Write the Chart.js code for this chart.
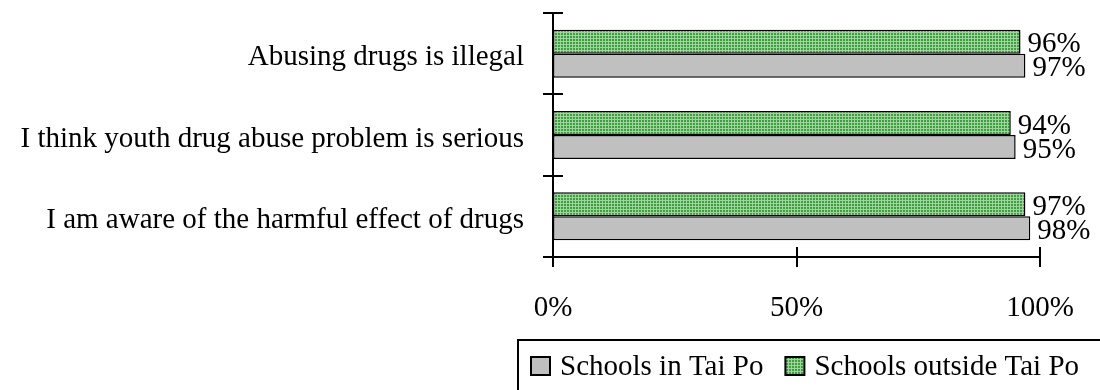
<!DOCTYPE html>
<html>
<head>
<meta charset="utf-8">
<script src="https://cdn.jsdelivr.net/npm/chart.js@4.4.1/dist/chart.umd.min.js"></script>
<style>
  html, body { margin: 0; padding: 0; background: #ffffff; }
  #wrap { width: 1100px; height: 390px; position: relative; }
</style>
</head>
<body>
<div id="wrap"><canvas id="chart" width="1100" height="390"></canvas></div>
<script>
// Survey statements (top to bottom)
const categories = [
  'Abusing drugs is illegal',
  'I think youth drug abuse problem is serious',
  'I am aware of the harmful effect of drugs'
];
// Percentage agreeing, by school location
const outsideTaiPo = [96, 94, 97];
const inTaiPo = [97, 95, 98];
const seriesNames = ['Schools outside Tai Po', 'Schools in Tai Po'];
const tickValues = [0, 50, 100];

const FONT = "'Liberation Serif', 'Times New Roman', serif";
const FONT_SIZE = 29;

// Small green grid fill for the "outside" series
function makeGridPattern() {
  const c = document.createElement('canvas');
  c.width = 3; c.height = 3;
  const g = c.getContext('2d');
  g.fillStyle = '#3d9f3d';
  g.fillRect(0, 0, 3, 3);
  g.fillStyle = '#9fd49f';
  g.fillRect(0, 2, 3, 1);
  g.fillRect(2, 0, 1, 3);
  return g.createPattern(c, 'repeat');
}
const greenGrid = makeGridPattern();

// Crossing tick marks on both axes
const crossTicks = {
  id: 'crossTicks',
  afterDraw(chart) {
    const ctx = chart.ctx;
    const x = chart.scales.x, y = chart.scales.y;
    const area = chart.chartArea;
    ctx.save();
    ctx.strokeStyle = '#000';
    ctx.lineWidth = 2;
    ctx.beginPath();
    for (let i = 0; i <= categories.length; i++) {
      const py = Math.round(y.getPixelForValue(i - 0.5));
      ctx.moveTo(area.left - 10, py);
      ctx.lineTo(area.left + 10, py);
    }
    x.ticks.forEach(t => {
      const px = Math.round(x.getPixelForValue(t.value));
      ctx.moveTo(px, area.bottom - 10);
      ctx.lineTo(px, area.bottom + 10);
    });
    ctx.stroke();
    ctx.restore();
  }
};

// Percentage text at the end of each bar
const valueLabels = {
  id: 'valueLabels',
  afterDatasetsDraw(chart) {
    const ctx = chart.ctx;
    ctx.save();
    ctx.font = FONT_SIZE + 'px ' + FONT;
    ctx.fillStyle = '#000';
    ctx.textAlign = 'left';
    ctx.textBaseline = 'middle';
    chart.data.datasets.forEach((ds, di) => {
      const meta = chart.getDatasetMeta(di);
      meta.data.forEach((bar, i) => {
        ctx.fillText(ds.data[i] + '%', bar.x + 7, bar.y + 3);
      });
    });
    ctx.restore();
  }
};

// Boxed legend along the bottom right
const boxedLegend = {
  id: 'boxedLegend',
  afterDraw(chart) {
    const ctx = chart.ctx;
    const boxLeft = 518, boxTop = 340;
    ctx.save();
    ctx.strokeStyle = '#000';
    ctx.lineWidth = 2;
    ctx.strokeRect(boxLeft, boxTop, chart.width - boxLeft + 10, chart.height - boxTop + 10);
    ctx.font = FONT_SIZE + 'px ' + FONT;
    ctx.textBaseline = 'middle';
    ctx.textAlign = 'left';
    let xPos = 531;
    const cy = 366;
    const items = chart.data.datasets.slice().reverse();
    items.forEach(ds => {
      ctx.fillStyle = ds.backgroundColor;
      ctx.fillRect(xPos, cy - 9, 19, 18);
      ctx.lineWidth = 2;
      ctx.strokeStyle = '#000';
      ctx.strokeRect(xPos, cy - 9, 19, 18);
      ctx.fillStyle = '#000';
      ctx.fillText(ds.label, xPos + 29, cy + 1);
      xPos += 29 + ctx.measureText(ds.label).width + 22;
    });
    ctx.restore();
  }
};

new Chart(document.getElementById('chart'), {
  type: 'bar',
  data: {
    labels: categories,
    datasets: [
      {
        label: seriesNames[0],
        data: outsideTaiPo,
        backgroundColor: greenGrid,
        borderColor: '#000',
        borderWidth: 1.5,
        borderSkipped: false
      },
      {
        label: seriesNames[1],
        data: inTaiPo,
        backgroundColor: '#c0c0c0',
        borderColor: '#000',
        borderWidth: 1.5,
        borderSkipped: false
      }
    ]
  },
  options: {
    indexAxis: 'y',
    responsive: false,
    animation: false,
    datasets: { bar: { categoryPercentage: 0.59, barPercentage: 1.0 } },
    layout: { padding: { top: 13, right: 60, bottom: 0, left: 0 } },
    plugins: {
      legend: { display: false },
      tooltip: { enabled: false }
    },
    scales: {
      x: {
        min: 0,
        max: 100,
        afterBuildTicks(scale) {
          scale.ticks = tickValues.map(v => ({ value: v }));
        },
        afterFit(scale) {
          scale.height = 133;
          scale.paddingLeft = 0;
          scale.paddingRight = 0;
        },
        grid: { display: false },
        border: { display: true, color: '#000', width: 2 },
        ticks: {
          padding: 26,
          color: '#000',
          maxRotation: 0,
          font: { family: FONT, size: FONT_SIZE },
          callback: v => v + '%'
        }
      },
      y: {
        afterFit(scale) {
          scale.width = 553;
          scale.paddingTop = 0;
          scale.paddingBottom = 0;
        },
        grid: { display: false },
        border: { display: true, color: '#000', width: 2 },
        ticks: {
          padding: 21,
          labelOffset: 4,
          color: '#000',
          font: { family: FONT, size: FONT_SIZE }
        }
      }
    }
  },
  plugins: [crossTicks, valueLabels, boxedLegend]
});
</script>
</body>
</html>
